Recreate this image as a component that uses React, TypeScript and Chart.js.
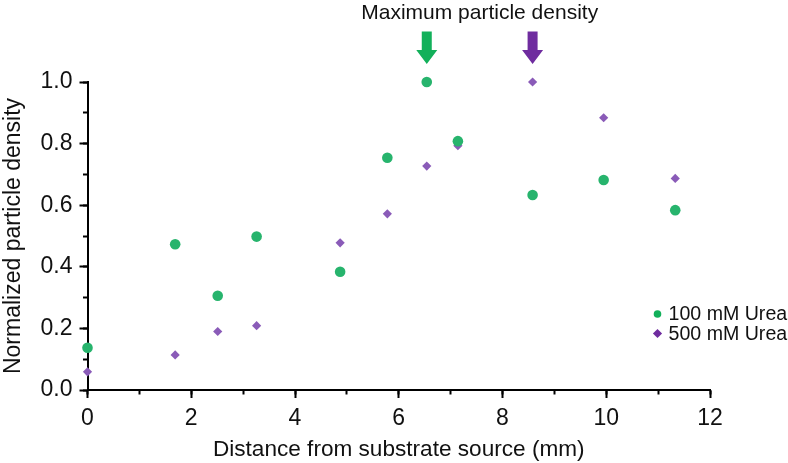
import React, { useEffect, useRef } from "react";
import { Chart, registerables } from "chart.js";

Chart.register(...registerables);

// ---- data ----
const distances = [0, 1.69, 2.51, 3.26, 4.87, 5.78, 6.54, 7.14, 8.58, 9.95, 11.33];
const urea100 = [0.137, 0.473, 0.306, 0.498, 0.384, 0.754, 1.0, 0.808, 0.633, 0.682, 0.584];
const urea500 = [0.059, 0.114, 0.19, 0.209, 0.478, 0.572, 0.727, 0.793, 1.0, 0.884, 0.687];
const seriesLabels = ["100 mM Urea", "500 mM Urea"];
const titleText = "Maximum particle density";
const xTitle = "Distance from substrate source (mm)";
const yTitle = "Normalized particle density";
const xRange = [0, 12];
const yRange = [0, 1];

const FONT = "'Liberation Sans', Arial, Helvetica, sans-serif";
const pointColors = ["#27b46d", "#8a5bb8"];
const markColors = ["#12b05a", "#6f2c9f"];

const annotate = {
  id: "annotate",
  afterDraw(chart: any) {
    const ctx = chart.ctx;
    const xs = chart.scales.x;
    const ys = chart.scales.y;
    const arrowXs: number[] = [];
    chart.data.datasets.forEach((ds: any, i: number) => {
      let best = ds.data[0];
      ds.data.forEach((p: any) => {
        if (p.y > best.y) best = p;
      });
      const px = xs.getPixelForValue(best.x);
      const py = ys.getPixelForValue(best.y);
      arrowXs.push(px);
      const tip = py - 18;
      const headTop = tip - 14;
      const shaftTop = headTop - 18.5;
      ctx.save();
      ctx.fillStyle = markColors[i];
      ctx.beginPath();
      ctx.moveTo(px - 5, shaftTop);
      ctx.lineTo(px + 5, shaftTop);
      ctx.lineTo(px + 5, headTop);
      ctx.lineTo(px + 10.5, headTop);
      ctx.lineTo(px, tip);
      ctx.lineTo(px - 10.5, headTop);
      ctx.lineTo(px - 5, headTop);
      ctx.closePath();
      ctx.fill();
      ctx.restore();
    });
    // title centred between arrows
    ctx.save();
    ctx.font = `21px ${FONT}`;
    ctx.fillStyle = "#111";
    ctx.textAlign = "center";
    ctx.textBaseline = "alphabetic";
    const cx = arrowXs.reduce((a, b) => a + b, 0) / arrowXs.length;
    ctx.fillText(titleText, cx, 18.5);
    ctx.restore();

    // legend
    const lx = 657.5;
    const ly0 = 314;
    chart.data.datasets.forEach((ds: any, i: number) => {
      const y = ly0 + i * 19.5;
      ctx.save();
      ctx.fillStyle = markColors[i];
      ctx.beginPath();
      if (i === 0) {
        ctx.arc(lx, y, 3.8, 0, Math.PI * 2);
      } else {
        const r = 4.6;
        ctx.moveTo(lx - r, y);
        ctx.lineTo(lx, y - r);
        ctx.lineTo(lx + r, y);
        ctx.lineTo(lx, y + r);
        ctx.closePath();
      }
      ctx.fill();
      ctx.font = `19.6px ${FONT}`;
      ctx.fillStyle = "#111";
      ctx.textAlign = "left";
      ctx.textBaseline = "middle";
      ctx.fillText(ds.label, 668.5, y + 1);
      ctx.restore();
    });
  },
};

export default function App() {
  const ref = useRef<HTMLCanvasElement | null>(null);
  useEffect(() => {
    if (!ref.current) return;
    const mk = (ys: number[]) => distances.map((x, i) => ({ x, y: ys[i] }));
    const chart = new Chart(ref.current, {
      type: "scatter",
      data: {
        datasets: [
          {
            label: seriesLabels[0],
            data: mk(urea100),
            pointStyle: "circle",
            pointRadius: 5.3,
            pointBorderWidth: 0,
            backgroundColor: pointColors[0],
            borderColor: pointColors[0],
            xAxisID: "x",
            yAxisID: "y",
            clip: false,
          } as any,
          {
            label: seriesLabels[1],
            data: mk(urea500),
            pointStyle: "rectRot",
            pointRadius: 4.6,
            pointBorderWidth: 0,
            backgroundColor: pointColors[1],
            borderColor: pointColors[1],
            xAxisID: "x",
            yAxisID: "y",
            clip: false,
          } as any,
        ],
      },
      options: {
        responsive: false,
        animation: false,
        events: [],
        layout: { padding: { top: 82, right: 78, left: 0, bottom: 0 } },
        plugins: { legend: { display: false }, tooltip: { enabled: false }, title: { display: false } },
        scales: {
          x: {
            type: "linear",
            position: "bottom",
            weight: 1,
            min: xRange[0],
            max: xRange[1],
            afterFit: (s: any) => {
              s.height = 73;
            },
            ticks: {
              stepSize: 2,
              padding: 7,
              autoSkip: false,
              maxRotation: 0,
              color: "#111",
              font: { family: FONT, size: 23 },
              callback: (v: any) => String(Math.round(v)),
            },
            grid: { drawOnChartArea: false, drawTicks: true, tickLength: 8, tickWidth: 2, tickColor: "#000" },
            border: { display: true, color: "#000", width: 2 },
            title: { display: true, text: xTitle, color: "#111", font: { family: FONT, size: 22.6 }, padding: 0 },
          },
          xMinor: {
            type: "linear",
            position: "bottom",
            weight: 0,
            min: xRange[0],
            max: xRange[1],
            afterFit: (s: any) => {
              s.height = 0;
            },
            ticks: { display: false, stepSize: 1, autoSkip: false },
            grid: { drawOnChartArea: false, drawTicks: true, tickLength: 4.5, tickWidth: 2, tickColor: "#000" },
            border: { display: false },
          },
          y: {
            type: "linear",
            position: "left",
            weight: 1,
            min: yRange[0],
            max: yRange[1],
            afterFit: (s: any) => {
              s.width = 87.5;
            },
            ticks: {
              stepSize: 0.2,
              padding: 7,
              autoSkip: false,
              color: "#111",
              font: { family: FONT, size: 23 },
              callback: (v: any) => (Math.round(v * 10) / 10).toFixed(1),
            },
            grid: { drawOnChartArea: false, drawTicks: true, tickLength: 8, tickWidth: 2, tickColor: "#000" },
            border: { display: true, color: "#000", width: 2 },
            title: { display: true, text: yTitle, color: "#111", font: { family: FONT, size: 23 }, padding: 0 },
          },
          yMinor: {
            type: "linear",
            position: "left",
            weight: 0,
            min: yRange[0],
            max: yRange[1],
            afterFit: (s: any) => {
              s.width = 0;
            },
            ticks: { display: false, stepSize: 0.1, autoSkip: false },
            grid: { drawOnChartArea: false, drawTicks: true, tickLength: 4.5, tickWidth: 2, tickColor: "#000" },
            border: { display: false },
          },
        },
      } as any,
      plugins: [annotate],
    });
    return () => chart.destroy();
  }, []);
  return (
    <div style={{ position: "absolute", left: 0, top: 0, width: 788, height: 463, background: "#fff" }}>
      <canvas ref={ref} width={788} height={463} style={{ display: "block" }} />
    </div>
  );
}
